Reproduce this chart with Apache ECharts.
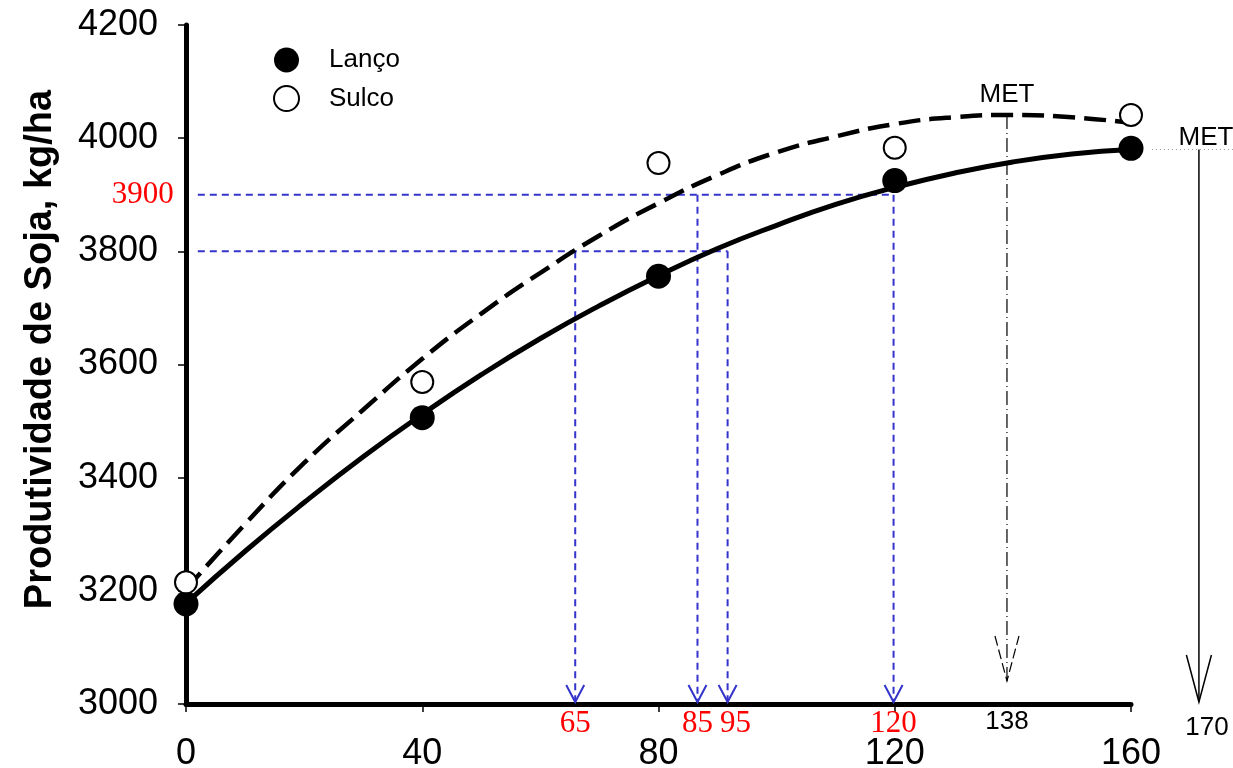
<!DOCTYPE html>
<html>
<head>
<meta charset="utf-8">
<script src="https://cdn.jsdelivr.net/npm/echarts@6/dist/echarts.min.js"></script>
<style>
  html, body { margin: 0; padding: 0; background: #fff; }
  #main { width: 1233px; height: 768px; }
</style>
</head>
<body>
<div id="main"></div>
<script>
// observed yields (kg/ha) at each P dose
const doses = [0, 40, 80, 120, 160];
const lancoYield = [3177, 3506, 3756, 3925, 3982];
const sulcoYield = [3215, 3569, 3956, 3983, 4041];

// fitted curves
const curveDoses = [0, 10, 20, 30, 40, 50, 60, 70, 80, 90, 100, 110, 120, 130, 140, 150, 160];
const lancoCurve = [3178, 3270, 3356, 3437, 3512, 3582, 3646, 3704, 3757, 3805, 3846, 3883, 3913, 3938, 3958, 3972, 3980];
const sulcoCurve = [3203, 3318, 3426, 3520, 3610, 3690, 3762, 3828, 3885, 3935, 3975, 4003, 4025, 4037, 4041, 4037, 4027];

// blue reference lines (yield levels and the doses where they meet the curves)
const refLevels = [3900, 3800];
const refLevelEnds = [119.8, 91.7];
const refDoses = [65.9, 86.6, 91.7, 119.8];
const refDoseTops = [3800, 3900, 3800, 3900];
const refDoseLabels = ['65', '85', '95', '120'];

// maximum efficiency dose (MET) markers: sulco, lanco
const metDoses = [139, 171.5];
const metYields = [4041, 3980];
const metLabels = ['138', '170'];

const chart = echarts.init(document.getElementById('main'));

const sans = 'Liberation Sans';
const serif = 'Liberation Serif';
const blue = '#3434cc';
const labelNudge = [0, 0, 8, 0];

function vArrow(x, y, hw, h, color, width, dash) {
  return {
    type: 'polyline',
    shape: { points: [[x - hw, y - h], [x, y], [x + hw, y - h]] },
    style: { stroke: color, lineWidth: width, fill: null, lineDash: dash }
  };
}

chart.setOption({
  backgroundColor: '#fff',
  animation: false,
  textStyle: { fontFamily: sans },
  grid: { left: 186, right: 102, top: 25, bottom: 64, outerBoundsMode: 'none', containLabel: false },
  legend: {
    data: ['Lanço', 'Sulco'],
    orient: 'vertical',
    left: 273,
    top: 47,
    padding: 0,
    itemWidth: 25,
    itemHeight: 25,
    itemGap: 12,
    textStyle: { fontSize: 26, color: '#000', padding: [0, 0, 0, 25] }
  },
  xAxis: {
    type: 'value',
    min: 0,
    max: 160,
    interval: 40,
    splitLine: { show: false },
    axisLine: { lineStyle: { color: '#000', width: 5 } },
    axisTick: { show: true, length: 8, lineStyle: { color: '#000', width: 1.5 } },
    axisLabel: { fontSize: 36, color: '#000', margin: 32 }
  },
  yAxis: {
    type: 'value',
    min: 3000,
    max: 4200,
    interval: 200,
    name: 'Produtividade de Soja, kg/ha',
    nameLocation: 'middle',
    nameGap: 126,
    nameTextStyle: { fontSize: 38, fontWeight: 'bold', color: '#000', padding: [0, 0, 0, 30] },
    splitLine: { show: false },
    axisLine: { show: true, lineStyle: { color: '#000', width: 5 } },
    axisTick: { show: true, length: 8, lineStyle: { color: '#000', width: 1.5 } },
    axisLabel: { fontSize: 36, color: '#000', margin: 28, formatter: v => String(v) }
  },
  series: [
    {
      name: 'guides',
      type: 'custom',
      silent: true,
      z: 1,
      data: refLevels.map((y, i) => [2, y, refLevelEnds[i], y]),
      renderItem: (params, api) => {
        const a = api.coord([api.value(0), api.value(1)]);
        const b = api.coord([api.value(2), api.value(3)]);
        const children = [{
          type: 'line',
          shape: { x1: a[0], y1: a[1], x2: b[0], y2: b[1] },
          style: { stroke: blue, lineWidth: 2, lineDash: [7, 5] }
        }];
        if (params.dataIndex === 0) {
          children.push({
            type: 'text', x: a[0] - 24, y: a[1],
            style: { text: String(api.value(1)), fill: '#ff0000', font: '31px ' + serif, align: 'right', verticalAlign: 'middle' }
          });
        }
        return { type: 'group', children };
      }
    },
    {
      name: 'guideArrows',
      type: 'custom',
      silent: true,
      z: 1,
      data: refDoses.map((x, i) => [x, refDoseTops[i], x, 3000]),
      renderItem: (params, api) => {
        const a = api.coord([api.value(0), api.value(1)]);
        const b = api.coord([api.value(2), api.value(3)]);
        const tip = b[1] - 2;
        return {
          type: 'group',
          children: [
            {
              type: 'line',
              shape: { x1: a[0], y1: a[1], x2: b[0], y2: tip },
              style: { stroke: blue, lineWidth: 2, lineDash: [7, 5] }
            },
            vArrow(b[0], tip, 9, 17, blue, 2, null),
            {
              type: 'text', x: b[0] + labelNudge[params.dataIndex], y: b[1] + 20,
              style: { text: refDoseLabels[params.dataIndex], fill: '#ff0000', font: '31px ' + serif, align: 'center', verticalAlign: 'middle' }
            }
          ]
        };
      }
    },
    {
      name: 'met',
      type: 'custom',
      silent: true,
      clip: false,
      z: 1,
      data: metDoses.map((x, i) => [x, metYields[i], x, 3000]),
      renderItem: (params, api) => {
        const a = api.coord([api.value(0), api.value(1)]);
        const b = api.coord([api.value(2), api.value(3)]);
        const sulco = params.dataIndex === 0;
        const tip = b[1] - (sulco ? 23 : 2);
        const dash = sulco ? [14, 4, 1, 4] : null;
        const children = [
          {
            type: 'line',
            shape: { x1: a[0], y1: a[1], x2: b[0], y2: tip },
            style: { stroke: '#000', lineWidth: sulco ? 1.2 : 1.5, lineDash: dash }
          },
          vArrow(b[0], tip, sulco ? 12 : 12.5, sulco ? 45 : 47, '#000', sulco ? 1.2 : 1.5, sulco ? [10, 4] : null),
          {
            type: 'text', x: b[0] + (sulco ? 0 : 8), y: b[1] + (sulco ? 18 : 24),
            style: { text: metLabels[params.dataIndex], fill: '#000', font: '26px ' + sans, align: 'center', verticalAlign: 'middle' }
          },
          {
            type: 'text', x: a[0] + (sulco ? 0 : 7), y: a[1] - (sulco ? 20 : 12),
            style: { text: 'MET', fill: '#000', font: '26px ' + sans, align: 'center', verticalAlign: 'middle' }
          }
        ];
        if (!sulco) {
          children.push({
            type: 'line',
            shape: { x1: a[0] - 47, y1: a[1], x2: a[0] + 40, y2: a[1] },
            style: { stroke: '#999', lineWidth: 1, lineDash: [1, 3] }
          });
        }
        return { type: 'group', children };
      }
    },
    {
      name: 'Lanço fit',
      type: 'line',
      data: curveDoses.map((x, i) => [x, lancoCurve[i]]),
      smooth: true,
      showSymbol: false,
      z: 2,
      lineStyle: { color: '#000', width: 5 }
    },
    {
      name: 'Sulco fit',
      type: 'line',
      data: curveDoses.map((x, i) => [x, sulcoCurve[i]]),
      smooth: true,
      showSymbol: false,
      z: 2,
      lineStyle: { color: '#000', width: 4.5, type: [22, 9] }
    },
    {
      name: 'Lanço',
      type: 'scatter',
      data: doses.map((x, i) => [x, lancoYield[i]]),
      symbol: 'circle',
      symbolSize: 25,
      z: 3,
      itemStyle: { color: '#000', opacity: 1 }
    },
    {
      name: 'Sulco',
      type: 'scatter',
      data: doses.map((x, i) => [x, sulcoYield[i]]),
      symbol: 'circle',
      symbolSize: 22,
      z: 3,
      itemStyle: { color: '#fff', borderColor: '#000', borderWidth: 2, opacity: 1 }
    }
  ]
});
</script>
</body>
</html>
